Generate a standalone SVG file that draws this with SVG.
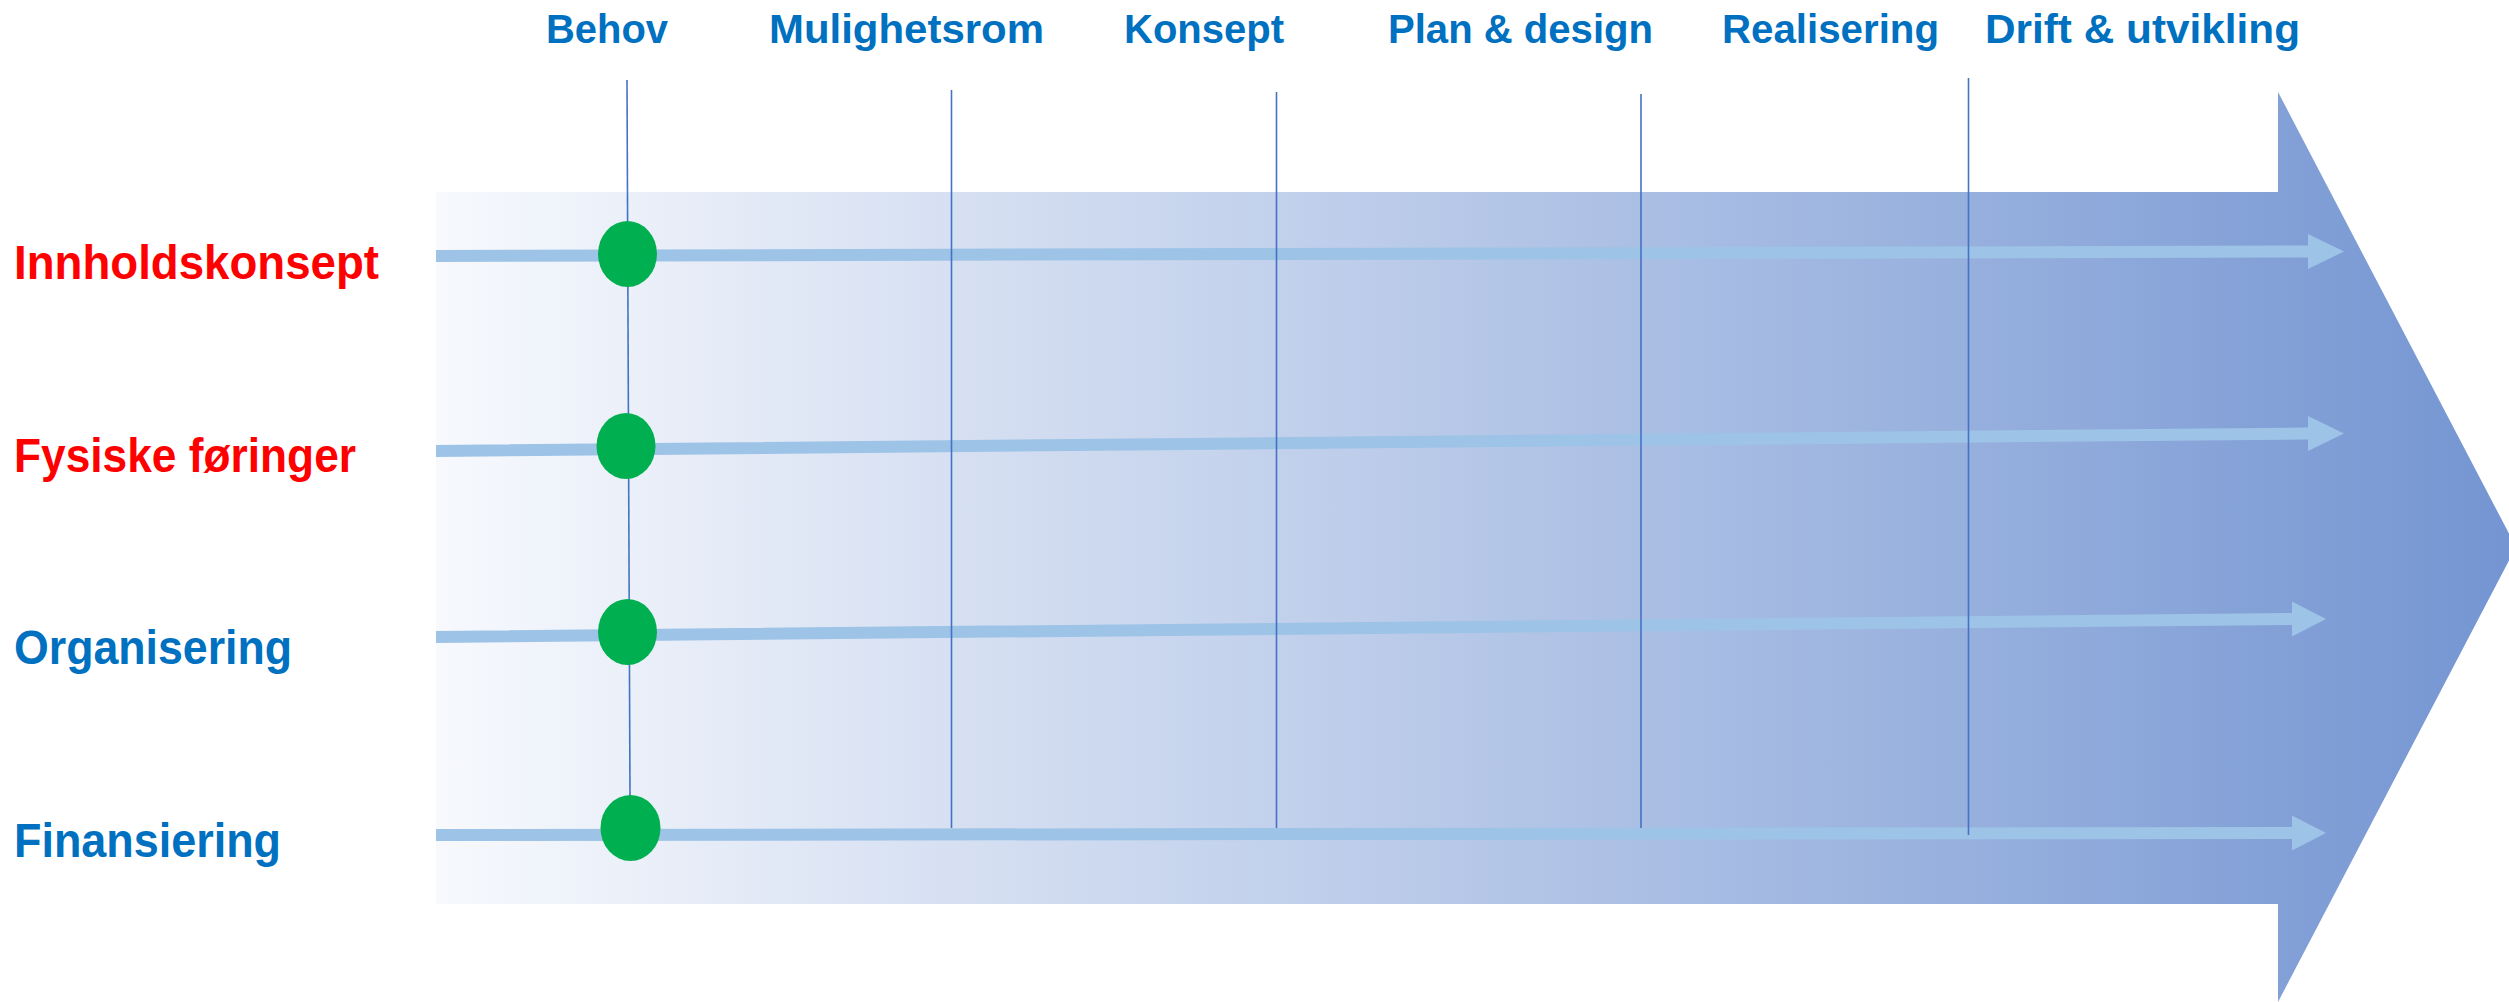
<svg xmlns="http://www.w3.org/2000/svg" width="2509" height="1002" viewBox="0 0 2509 1002">
<style>
.phase{font-family:"Liberation Sans",Arial,sans-serif;font-weight:bold;font-size:41px;fill:#0070c0}
.row{font-family:"Liberation Sans",Arial,sans-serif;font-weight:bold;font-size:48px}
.red{fill:#ff0000}
.blue{fill:#0070c0}
.vline{stroke:#4472c4;stroke-width:1.6;fill:none}
.flow{fill:#9dc3e6}
.dot{fill:#00b050}
</style>
<defs>
<linearGradient id="bg" gradientUnits="userSpaceOnUse" x1="436" y1="0" x2="2516" y2="0">
<stop offset="0" stop-color="#f7f9fd"/>
<stop offset="1" stop-color="#7495d2"/>
</linearGradient>
</defs>
<rect width="2509" height="1002" fill="#ffffff"/>
<g id="big-arrow">
<path d="M436,192 H2278 V92 L2516,547 L2278,1002 V904 H436 Z" fill="url(#bg)"/>
</g>
<g id="connectors">
<polygon class="flow" points="436,250 2308,245.5 2308,234 2344,251.5 2308,269 2308,257.5 436,262"/>
<polygon class="flow" points="436,445 2308,427.5 2308,416 2344,433.5 2308,451 2308,439.5 436,457"/>
<polygon class="flow" points="436,631 2292,613 2292,601.5 2326,619 2292,636.5 2292,625 436,643"/>
<polygon class="flow" points="436,829 2292,827 2292,815.5 2326,833 2292,850.5 2292,839 436,841"/>
<line class="vline" x1="627" y1="80" x2="630" y2="796"/>
<line class="vline" x1="951.5" y1="90" x2="951.5" y2="828"/>
<line class="vline" x1="1276.5" y1="92" x2="1276.5" y2="828"/>
<line class="vline" x1="1641" y1="94" x2="1641" y2="828"/>
<line class="vline" x1="1968.5" y1="78" x2="1968.5" y2="835"/>
</g>
<g id="phase-behov"><text class="phase" x="546" y="43" textLength="122" lengthAdjust="spacingAndGlyphs">Behov</text></g>
<g id="phase-mulighetsrom"><text class="phase" x="769" y="43" textLength="275" lengthAdjust="spacingAndGlyphs">Mulighetsrom</text></g>
<g id="phase-konsept"><text class="phase" x="1124" y="43" textLength="160" lengthAdjust="spacingAndGlyphs">Konsept</text></g>
<g id="phase-plan"><text class="phase" x="1388" y="43" textLength="265" lengthAdjust="spacingAndGlyphs">Plan &amp; design</text></g>
<g id="phase-realisering"><text class="phase" x="1722" y="43" textLength="217" lengthAdjust="spacingAndGlyphs">Realisering</text></g>
<g id="phase-drift"><text class="phase" x="1985" y="43" textLength="315" lengthAdjust="spacingAndGlyphs">Drift &amp; utvikling</text></g>
<g id="row-innholdskonsept"><text class="row red" x="14" y="279" textLength="365" lengthAdjust="spacingAndGlyphs">Innholdskonsept</text></g>
<g id="row-fysiske"><text class="row red" x="14" y="472" textLength="342" lengthAdjust="spacingAndGlyphs">Fysiske føringer</text></g>
<g id="row-organisering"><text class="row blue" x="14" y="664" textLength="278" lengthAdjust="spacingAndGlyphs">Organisering</text></g>
<g id="row-finansiering"><text class="row blue" x="14" y="857" textLength="267" lengthAdjust="spacingAndGlyphs">Finansiering</text></g>
<g id="dot-innholdskonsept"><ellipse class="dot" cx="627.5" cy="254" rx="29.5" ry="33"/></g>
<g id="dot-fysiske"><ellipse class="dot" cx="626" cy="446" rx="29.5" ry="33"/></g>
<g id="dot-organisering"><ellipse class="dot" cx="627.5" cy="632" rx="29.5" ry="33"/></g>
<g id="dot-finansiering"><ellipse class="dot" cx="630.5" cy="828" rx="30" ry="33"/></g>
</svg>
